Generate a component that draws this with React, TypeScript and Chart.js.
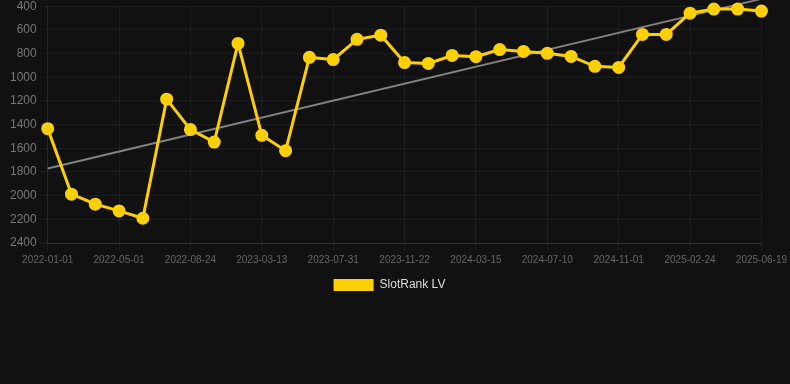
import React, { useEffect, useRef } from "react";
import { Chart, registerables } from "chart.js";

Chart.register(...registerables);

const labels: string[] = [
  "2022-01-01", "2022-02-10", "2022-03-20", "2022-05-01", "2022-06-08", "2022-07-16",
  "2022-08-24", "2022-10-30", "2023-01-05", "2023-03-13", "2023-05-01", "2023-06-15",
  "2023-07-31", "2023-09-08", "2023-10-15", "2023-11-22", "2024-01-01", "2024-02-07",
  "2024-03-15", "2024-04-23", "2024-06-01", "2024-07-10", "2024-08-18", "2024-09-25",
  "2024-11-01", "2024-12-10", "2025-01-17", "2025-02-24", "2025-04-03", "2025-05-11",
  "2025-06-19",
];

const rankValues: number[] = [
  1434, 1988, 2072, 2129, 2191, 1185, 1442, 1548, 714, 1491, 1620, 832,
  851, 680, 645, 876, 883, 816, 826, 766, 782, 798, 824, 908,
  917, 638, 638, 459, 424, 424, 441,
];

const trendStart = 1770;
const trendEnd = 338;

const yTicks = { min: 400, max: 2400, step: 200 };

export default function App() {
  const ref = useRef<HTMLCanvasElement | null>(null);

  useEffect(() => {
    document.body.style.margin = "0";
    document.body.style.background = "#111111";
    document.body.style.overflow = "hidden";
    if (!ref.current) return;
    const trendData = labels.map((_, i) =>
      i === 0 ? trendStart : i === labels.length - 1 ? trendEnd : null
    );
    const font = "'Liberation Sans', Arial, Helvetica, sans-serif";
    const chart = new Chart(ref.current, {
      type: "line",
      data: {
        labels,
        datasets: [
          {
            label: "SlotRank LV",
            data: rankValues,
            borderColor: "#FFD000",
            backgroundColor: "#FFD000",
            borderWidth: 3,
            pointRadius: 5,
            pointHoverRadius: 5,
            pointBackgroundColor: "#FFD000",
            pointBorderColor: "#FFD000",
            tension: 0,
            clip: false as any,
          },
          {
            label: "trend",
            data: trendData,
            borderColor: "rgba(150,150,150,0.85)",
            backgroundColor: "rgba(150,150,150,0.85)",
            borderWidth: 2,
            pointRadius: 0,
            spanGaps: true,
            clip: false as any,
          },
        ],
      },
      options: {
        animation: false,
        responsive: true,
        maintainAspectRatio: false,
        layout: { padding: { left: 7, right: 18, top: 0, bottom: 0 } },
        scales: {
          x: {
            grid: { color: "rgba(255,255,255,0.05)" },
            border: { color: "rgba(255,255,255,0.1)" },
            ticks: {
              autoSkip: false,
              maxRotation: 0,
              color: "#666",
              font: { family: font, size: 10 },
              callback: (_v: any, i: number) => (i % 3 === 0 ? labels[i] : null),
            },
          },
          y: {
            reverse: true,
            min: yTicks.min,
            max: yTicks.max,
            grid: { color: "rgba(255,255,255,0.05)" },
            border: { color: "rgba(255,255,255,0.05)" },
            ticks: {
              stepSize: yTicks.step,
              color: "#777",
              font: { family: font, size: 12 },
              callback: (v: any) => String(v),
            },
          },
        },
        plugins: {
          legend: {
            position: "bottom",
            labels: {
              color: "#ddd",
              boxWidth: 40,
              boxHeight: 12,
              font: { family: font, size: 12 },
              filter: (item: any) => item.datasetIndex === 0,
              generateLabels: (c: any) =>
                Chart.defaults.plugins.legend.labels
                  .generateLabels(c)
                  .map((it: any) => ({ ...it, lineWidth: 0 })),
            },
          },
          tooltip: { enabled: false },
        },
      },
    });
    return () => chart.destroy();
  }, []);

  return (
    <div style={{ width: 790, height: 305, marginTop: -4, background: "#111111" }}>
      <canvas ref={ref} />
    </div>
  );
}
